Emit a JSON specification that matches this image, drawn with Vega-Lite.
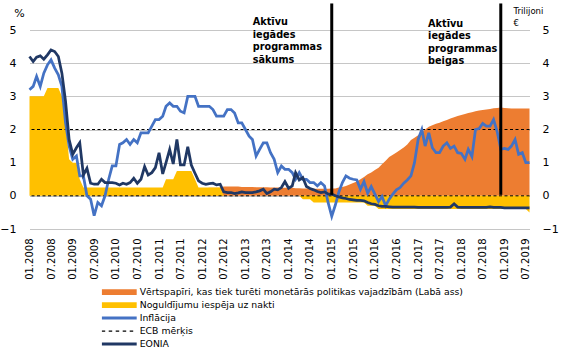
{
  "$schema": "https://vega.github.io/schema/vega-lite/v6.json",
  "width": 500,
  "height": 199,
  "autosize": "none",
  "padding": {"left": 29.5, "top": 30, "right": 55.5, "bottom": 124},
  "config": {
    "view": {"stroke": null},
    "font": "DejaVu Sans",
    "axis": {"labelFont": "DejaVu Sans", "titleFont": "DejaVu Sans", "labelColor": "#000", "titleColor": "#000"}
  },
  "datasets": {
    "main": [
      {"d":"2008-01","s":0,"p":3,"i":3.2,"e":4.2},
      {"d":"2008-02","s":0,"p":3,"i":3.3,"e":4.05},
      {"d":"2008-03","s":0,"p":3,"i":3.6,"e":4.18},
      {"d":"2008-04","s":0,"p":3,"i":3.3,"e":4.22},
      {"d":"2008-05","s":0,"p":3,"i":3.7,"e":4.12},
      {"d":"2008-06","s":0,"p":3.25,"i":3.95,"e":4.25},
      {"d":"2008-07","s":0,"p":3.25,"i":4.1,"e":4.4},
      {"d":"2008-08","s":0,"p":3.25,"i":3.85,"e":4.35},
      {"d":"2008-09","s":0,"p":3.25,"i":3.65,"e":4.2},
      {"d":"2008-10","s":0,"p":3.0,"i":3.3,"e":3.7},
      {"d":"2008-11","s":0,"p":2.2,"i":2.2,"e":2.85},
      {"d":"2008-12","s":0,"p":1.1,"i":1.5,"e":1.7},
      {"d":"2009-01","s":0,"p":1.0,"i":1.1,"e":1.25},
      {"d":"2009-02","s":0,"p":1.0,"i":1.2,"e":1.45},
      {"d":"2009-03","s":0,"p":0.5,"i":0.6,"e":1.6},
      {"d":"2009-04","s":0,"p":0.25,"i":0.6,"e":0.63},
      {"d":"2009-05","s":0,"p":0.25,"i":0.0,"e":0.83},
      {"d":"2009-06","s":0,"p":0.25,"i":-0.1,"e":0.38},
      {"d":"2009-07","s":0.01,"p":0.25,"i":-0.6,"e":0.35},
      {"d":"2009-08","s":0.02,"p":0.25,"i":-0.2,"e":0.35},
      {"d":"2009-09","s":0.03,"p":0.25,"i":-0.3,"e":0.5},
      {"d":"2009-10","s":0.04,"p":0.25,"i":0.0,"e":0.4},
      {"d":"2009-11","s":0.05,"p":0.25,"i":0.5,"e":0.4},
      {"d":"2009-12","s":0.06,"p":0.25,"i":0.9,"e":0.4},
      {"d":"2010-01","s":0.06,"p":0.25,"i":0.9,"e":0.38},
      {"d":"2010-02","s":0.06,"p":0.25,"i":1.55,"e":0.33},
      {"d":"2010-03","s":0.06,"p":0.25,"i":1.6,"e":0.38},
      {"d":"2010-04","s":0.06,"p":0.25,"i":1.7,"e":0.35},
      {"d":"2010-05","s":0.08,"p":0.25,"i":1.55,"e":0.4},
      {"d":"2010-06","s":0.1,"p":0.25,"i":1.7,"e":0.53},
      {"d":"2010-07","s":0.11,"p":0.25,"i":1.6,"e":0.38},
      {"d":"2010-08","s":0.12,"p":0.25,"i":1.9,"e":0.5},
      {"d":"2010-09","s":0.12,"p":0.25,"i":1.9,"e":0.88},
      {"d":"2010-10","s":0.12,"p":0.25,"i":1.9,"e":0.63},
      {"d":"2010-11","s":0.13,"p":0.25,"i":2.1,"e":0.7},
      {"d":"2010-12","s":0.13,"p":0.25,"i":2.3,"e":0.85},
      {"d":"2011-01","s":0.13,"p":0.25,"i":2.3,"e":1.3},
      {"d":"2011-02","s":0.13,"p":0.25,"i":2.4,"e":0.66},
      {"d":"2011-03","s":0.13,"p":0.5,"i":2.7,"e":1.0},
      {"d":"2011-04","s":0.13,"p":0.5,"i":2.8,"e":1.4},
      {"d":"2011-05","s":0.13,"p":0.5,"i":2.7,"e":0.96},
      {"d":"2011-06","s":0.13,"p":0.75,"i":2.7,"e":1.7},
      {"d":"2011-07","s":0.13,"p":0.75,"i":2.55,"e":0.93},
      {"d":"2011-08","s":0.18,"p":0.75,"i":2.5,"e":0.93},
      {"d":"2011-09","s":0.2,"p":0.75,"i":3.0,"e":1.48},
      {"d":"2011-10","s":0.21,"p":0.75,"i":3.0,"e":0.93},
      {"d":"2011-11","s":0.22,"p":0.5,"i":3.0,"e":0.68},
      {"d":"2011-12","s":0.23,"p":0.25,"i":2.7,"e":0.45},
      {"d":"2012-01","s":0.23,"p":0.25,"i":2.7,"e":0.38},
      {"d":"2012-02","s":0.23,"p":0.25,"i":2.7,"e":0.35},
      {"d":"2012-03","s":0.24,"p":0.25,"i":2.7,"e":0.37},
      {"d":"2012-04","s":0.24,"p":0.25,"i":2.6,"e":0.38},
      {"d":"2012-05","s":0.24,"p":0.25,"i":2.4,"e":0.33},
      {"d":"2012-06","s":0.24,"p":0.25,"i":2.4,"e":0.35},
      {"d":"2012-07","s":0.28,"p":0,"i":2.4,"e":0.12},
      {"d":"2012-08","s":0.28,"p":0,"i":2.6,"e":0.1},
      {"d":"2012-09","s":0.28,"p":0,"i":2.6,"e":0.1},
      {"d":"2012-10","s":0.28,"p":0,"i":2.5,"e":0.07},
      {"d":"2012-11","s":0.28,"p":0,"i":2.2,"e":0.09},
      {"d":"2012-12","s":0.27,"p":0,"i":2.2,"e":0.12},
      {"d":"2013-01","s":0.27,"p":0,"i":2.0,"e":0.1},
      {"d":"2013-02","s":0.27,"p":0,"i":1.8,"e":0.1},
      {"d":"2013-03","s":0.27,"p":0,"i":1.7,"e":0.1},
      {"d":"2013-04","s":0.26,"p":0,"i":1.2,"e":0.12},
      {"d":"2013-05","s":0.26,"p":0,"i":1.4,"e":0.15},
      {"d":"2013-06","s":0.26,"p":0,"i":1.6,"e":0.2},
      {"d":"2013-07","s":0.26,"p":0,"i":1.6,"e":0.07},
      {"d":"2013-08","s":0.25,"p":0,"i":1.3,"e":0.12},
      {"d":"2013-09","s":0.25,"p":0,"i":1.1,"e":0.2},
      {"d":"2013-10","s":0.25,"p":0,"i":0.7,"e":0.18},
      {"d":"2013-11","s":0.24,"p":0,"i":0.9,"e":0.25},
      {"d":"2013-12","s":0.24,"p":0,"i":0.8,"e":0.43},
      {"d":"2014-01","s":0.24,"p":0,"i":0.8,"e":0.23},
      {"d":"2014-02","s":0.24,"p":0,"i":0.7,"e":0.3},
      {"d":"2014-03","s":0.23,"p":0,"i":0.5,"e":0.7},
      {"d":"2014-04","s":0.23,"p":0,"i":0.7,"e":0.48},
      {"d":"2014-05","s":0.22,"p":-0.1,"i":0.5,"e":0.55},
      {"d":"2014-06","s":0.22,"p":-0.1,"i":0.5,"e":0.28},
      {"d":"2014-07","s":0.22,"p":-0.1,"i":0.4,"e":0.22},
      {"d":"2014-08","s":0.21,"p":-0.2,"i":0.4,"e":0.18},
      {"d":"2014-09","s":0.21,"p":-0.2,"i":0.3,"e":0.13},
      {"d":"2014-10","s":0.21,"p":-0.2,"i":0.4,"e":0.1},
      {"d":"2014-11","s":0.21,"p":-0.2,"i":0.3,"e":0.12},
      {"d":"2014-12","s":0.21,"p":-0.2,"i":-0.2,"e":0.06},
      {"d":"2015-01","s":0.22,"p":-0.2,"i":-0.62,"e":0.05},
      {"d":"2015-02","s":0.22,"p":-0.2,"i":-0.27,"e":0.0},
      {"d":"2015-03","s":0.25,"p":-0.2,"i":0.1,"e":-0.03},
      {"d":"2015-04","s":0.27,"p":-0.2,"i":0.4,"e":-0.06},
      {"d":"2015-05","s":0.3,"p":-0.2,"i":0.6,"e":-0.08},
      {"d":"2015-06","s":0.34,"p":-0.2,"i":0.53,"e":-0.11},
      {"d":"2015-07","s":0.39,"p":-0.2,"i":0.5,"e":-0.12},
      {"d":"2015-08","s":0.43,"p":-0.2,"i":0.48,"e":-0.14},
      {"d":"2015-09","s":0.5,"p":-0.2,"i":0.2,"e":-0.14},
      {"d":"2015-10","s":0.57,"p":-0.2,"i":0.43,"e":-0.15},
      {"d":"2015-11","s":0.65,"p":-0.3,"i":0.08,"e":-0.2},
      {"d":"2015-12","s":0.7,"p":-0.3,"i":0.28,"e":-0.24},
      {"d":"2016-01","s":0.78,"p":-0.3,"i":0.05,"e":-0.26},
      {"d":"2016-02","s":0.85,"p":-0.4,"i":-0.17,"e":-0.3},
      {"d":"2016-03","s":0.95,"p":-0.4,"i":-0.02,"e":-0.32},
      {"d":"2016-04","s":1.06,"p":-0.4,"i":-0.3,"e":-0.32},
      {"d":"2016-05","s":1.17,"p":-0.4,"i":-0.1,"e":-0.33},
      {"d":"2016-06","s":1.24,"p":-0.4,"i":0.05,"e":-0.34},
      {"d":"2016-07","s":1.31,"p":-0.4,"i":0.18,"e":-0.34},
      {"d":"2016-08","s":1.38,"p":-0.4,"i":0.25,"e":-0.34},
      {"d":"2016-09","s":1.46,"p":-0.4,"i":0.38,"e":-0.34},
      {"d":"2016-10","s":1.55,"p":-0.4,"i":0.48,"e":-0.34},
      {"d":"2016-11","s":1.68,"p":-0.4,"i":0.6,"e":-0.34},
      {"d":"2016-12","s":1.75,"p":-0.4,"i":1.0,"e":-0.34},
      {"d":"2017-01","s":1.83,"p":-0.4,"i":1.7,"e":-0.35},
      {"d":"2017-02","s":1.92,"p":-0.4,"i":2.0,"e":-0.35},
      {"d":"2017-03","s":2.0,"p":-0.4,"i":1.5,"e":-0.35},
      {"d":"2017-04","s":2.08,"p":-0.4,"i":1.9,"e":-0.35},
      {"d":"2017-05","s":2.13,"p":-0.4,"i":1.45,"e":-0.35},
      {"d":"2017-06","s":2.17,"p":-0.4,"i":1.3,"e":-0.35},
      {"d":"2017-07","s":2.2,"p":-0.4,"i":1.3,"e":-0.35},
      {"d":"2017-08","s":2.25,"p":-0.4,"i":1.5,"e":-0.35},
      {"d":"2017-09","s":2.29,"p":-0.4,"i":1.6,"e":-0.35},
      {"d":"2017-10","s":2.33,"p":-0.4,"i":1.43,"e":-0.34},
      {"d":"2017-11","s":2.37,"p":-0.4,"i":1.5,"e":-0.24},
      {"d":"2017-12","s":2.41,"p":-0.4,"i":1.3,"e":-0.34},
      {"d":"2018-01","s":2.44,"p":-0.4,"i":1.28,"e":-0.35},
      {"d":"2018-02","s":2.47,"p":-0.4,"i":1.1,"e":-0.35},
      {"d":"2018-03","s":2.5,"p":-0.4,"i":1.4,"e":-0.35},
      {"d":"2018-04","s":2.52,"p":-0.4,"i":1.18,"e":-0.35},
      {"d":"2018-05","s":2.55,"p":-0.4,"i":2.0,"e":-0.35},
      {"d":"2018-06","s":2.57,"p":-0.4,"i":2.03,"e":-0.35},
      {"d":"2018-07","s":2.59,"p":-0.4,"i":2.18,"e":-0.35},
      {"d":"2018-08","s":2.6,"p":-0.4,"i":2.1,"e":-0.35},
      {"d":"2018-09","s":2.62,"p":-0.4,"i":2.1,"e":-0.33},
      {"d":"2018-10","s":2.64,"p":-0.4,"i":2.3,"e":-0.35},
      {"d":"2018-11","s":2.65,"p":-0.4,"i":1.93,"e":-0.35},
      {"d":"2018-12","s":2.66,"p":-0.4,"i":1.4,"e":-0.35},
      {"d":"2019-01","s":2.65,"p":-0.4,"i":1.43,"e":-0.36},
      {"d":"2019-02","s":2.64,"p":-0.4,"i":1.4,"e":-0.36},
      {"d":"2019-03","s":2.63,"p":-0.4,"i":1.5,"e":-0.36},
      {"d":"2019-04","s":2.63,"p":-0.4,"i":1.7,"e":-0.36},
      {"d":"2019-05","s":2.63,"p":-0.4,"i":1.25,"e":-0.36},
      {"d":"2019-06","s":2.63,"p":-0.4,"i":1.3,"e":-0.36},
      {"d":"2019-07","s":2.63,"p":-0.4,"i":1.0,"e":-0.36},
      {"d":"2019-08","s":2.63,"p":-0.5,"i":1.0,"e":-0.36}
    ],
    "events": [{"d": "2015-01-01"}, {"d": "2018-12-01"}],
    "notes": [
      {"d": "2013-03-04", "v": 5.38, "t": "Aktīvu\niegādes\nprogrammas\nsākums"},
      {"d": "2017-03-26", "v": 5.33, "t": "Aktīvu\niegādes\nprogrammas\nbeigas"}
    ],
    "zero": [{"v": 0}],
    "target": [{"v": 2}]
  },
  "layer": [
    {
      "data": {"name": "main"},
      "mark": {"type": "area", "interpolate": "linear", "opacity": 1},
      "encoding": {
        "x": {
          "field": "d", "type": "temporal",
          "scale": {"type": "utc", "domain": [{"year": 2008, "month": 1, "date": 1, "utc": true}, {"year": 2019, "month": 8, "date": 1, "utc": true}]},
          "axis": {
            "title": null, "format": "%m.%Y", "labelAngle": -90, "labelPadding": 9,
            "ticks": false, "domain": false, "grid": false, "labelFontSize": 10, "labelFlush": false, "labelOverlap": false,
            "tickCount": {"interval": "month", "step": 6}
          }
        },
        "y": {
          "field": "s", "type": "quantitative", "stack": null,
          "scale": {"domain": [-1, 5], "nice": false, "zero": false},
          "axis": {
            "orient": "right", "values": [-1, 0, 1, 2, 3, 4, 5], "grid": false, "ticks": false, "domain": false,
            "labelPadding": 12.5, "labelFontSize": 11, "labelAlign": "left",
            "title": ["Trilijoni", "€"], "titleAngle": 0, "titleAlign": "left", "titleBaseline": "top",
            "titleX": -16.5, "titleY": -24, "titleFontSize": 8.5, "titleFontWeight": "normal", "titleLineHeight": 12
          }
        },
        "color": {
          "datum": "Vērtspapīri, kas tiek turēti monetārās politikas vajadzībām (Labā ass)",
          "scale": {
            "domain": ["Vērtspapīri, kas tiek turēti monetārās politikas vajadzībām (Labā ass)", "Noguldījumu iespēja uz nakti", "Inflācija", "ECB mērķis", "EONIA"],
            "range": ["#ED7D31", "#FFC000", "#4472C4", "#000000", "#203864"]
          },
          "legend": {
            "orient": "none", "legendX": 72.2, "legendY": 256, "title": null, "direction": "vertical",
            "symbolSize": 1225, "clipHeight": 12.2, "rowPadding": 0, "labelOffset": 3, "padding": 0,
            "labelFont": "DejaVu Sans", "labelFontSize": 9.3, "labelColor": "#000", "labelLimit": 500,
            "encoding": {
              "symbols": {
                "shape": {"value": {"expr": "datum.value === 'ECB mērķis' ? 'M-1,-0.03H-0.8V0.03H-1Z M-0.6,-0.03H-0.4V0.03H-0.6Z M-0.2,-0.03H0V0.03H-0.2Z M0.2,-0.03H0.4V0.03H0.2Z M0.6,-0.03H0.8V0.03H0.6Z' : ((datum.value === 'Inflācija' || datum.value === 'EONIA') ? 'M-1,-0.086H1V0.086H-1Z' : 'M-1,-0.17H1V0.17H-1Z')"}},
                "fill": {"value": {"expr": "datum.value === 'Noguldījumu iespēja uz nakti' ? '#FFC000' : (datum.value === 'Inflācija' ? '#4472C4' : (datum.value === 'EONIA' ? '#203864' : (datum.value === 'ECB mērķis' ? '#000000' : '#ED7D31')))"}},
                "stroke": {"value": "transparent"},
                "strokeWidth": {"value": 0},
                "opacity": {"value": 1},
                "fillOpacity": {"value": 1}
              }
            }
          }
        }
      }
    },
    {
      "data": {"name": "main"},
      "mark": {"type": "area", "interpolate": "linear", "opacity": 1},
      "encoding": {
        "x": {"field": "d", "type": "temporal"},
        "y": {
          "field": "p", "type": "quantitative", "stack": null,
          "scale": {"domain": [-1, 5], "nice": false, "zero": false},
          "axis": {
            "orient": "left", "values": [-1, 0, 1, 2, 3, 4, 5], "grid": true, "gridColor": "#C6C6C6", "gridWidth": 1,
            "ticks": false, "domain": false, "labelPadding": 13.5, "labelFontSize": 11,
            "title": "%", "titleAngle": 0, "titleAlign": "center", "titleBaseline": "middle",
            "titleX": -10.5, "titleY": -17, "titleFontSize": 11, "titleFontWeight": "normal"
          }
        },
        "color": {"datum": "Noguldījumu iespēja uz nakti", "legend": null}
      }
    },
    {
      "data": {"name": "zero"},
      "mark": {"type": "rule", "color": "#000000", "strokeWidth": 1, "strokeDash": [3, 2.5]},
      "encoding": {
        "y": {"field": "v", "type": "quantitative", "scale": {"domain": [-1, 5], "nice": false, "zero": false}, "axis": null}
      }
    },
    {
      "data": {"name": "target"},
      "mark": {"type": "rule", "strokeWidth": 1, "strokeDash": [3, 2.5]},
      "encoding": {
        "y": {"field": "v", "type": "quantitative", "scale": {"domain": [-1, 5], "nice": false, "zero": false}, "axis": null},
        "color": {"datum": "ECB mērķis", "legend": null}
      }
    },
    {
      "data": {"name": "main"},
      "mark": {"type": "line", "strokeWidth": 2.75, "interpolate": "linear"},
      "encoding": {
        "x": {"field": "d", "type": "temporal"},
        "y": {"field": "i", "type": "quantitative", "scale": {"domain": [-1, 5], "nice": false, "zero": false}, "axis": null},
        "color": {"datum": "Inflācija", "legend": null}
      }
    },
    {
      "data": {"name": "main"},
      "mark": {"type": "line", "strokeWidth": 2.75, "interpolate": "linear"},
      "encoding": {
        "x": {"field": "d", "type": "temporal"},
        "y": {"field": "e", "type": "quantitative", "scale": {"domain": [-1, 5], "nice": false, "zero": false}, "axis": null},
        "color": {"datum": "EONIA", "legend": null}
      }
    },
    {
      "data": {"name": "events"},
      "mark": {"type": "rule", "color": "#000000", "strokeWidth": 3},
      "encoding": {
        "x": {"field": "d", "type": "temporal"},
        "y": {"datum": 0.03, "type": "quantitative", "scale": {"domain": [-1, 5], "nice": false, "zero": false}, "axis": null},
        "y2": {"datum": 5.8}
      }
    },
    {
      "data": {"name": "notes"},
      "mark": {"type": "text", "align": "left", "baseline": "top", "lineBreak": "\n", "fontWeight": "bold", "fontSize": 9.7, "lineHeight": 12.4, "font": "DejaVu Sans", "color": "#000000"},
      "encoding": {
        "x": {"field": "d", "type": "temporal"},
        "y": {"field": "v", "type": "quantitative", "scale": {"domain": [-1, 5], "nice": false, "zero": false}, "axis": null},
        "text": {"field": "t"}
      }
    }
  ],
  "resolve": {"scale": {"y": "independent"}}
}
